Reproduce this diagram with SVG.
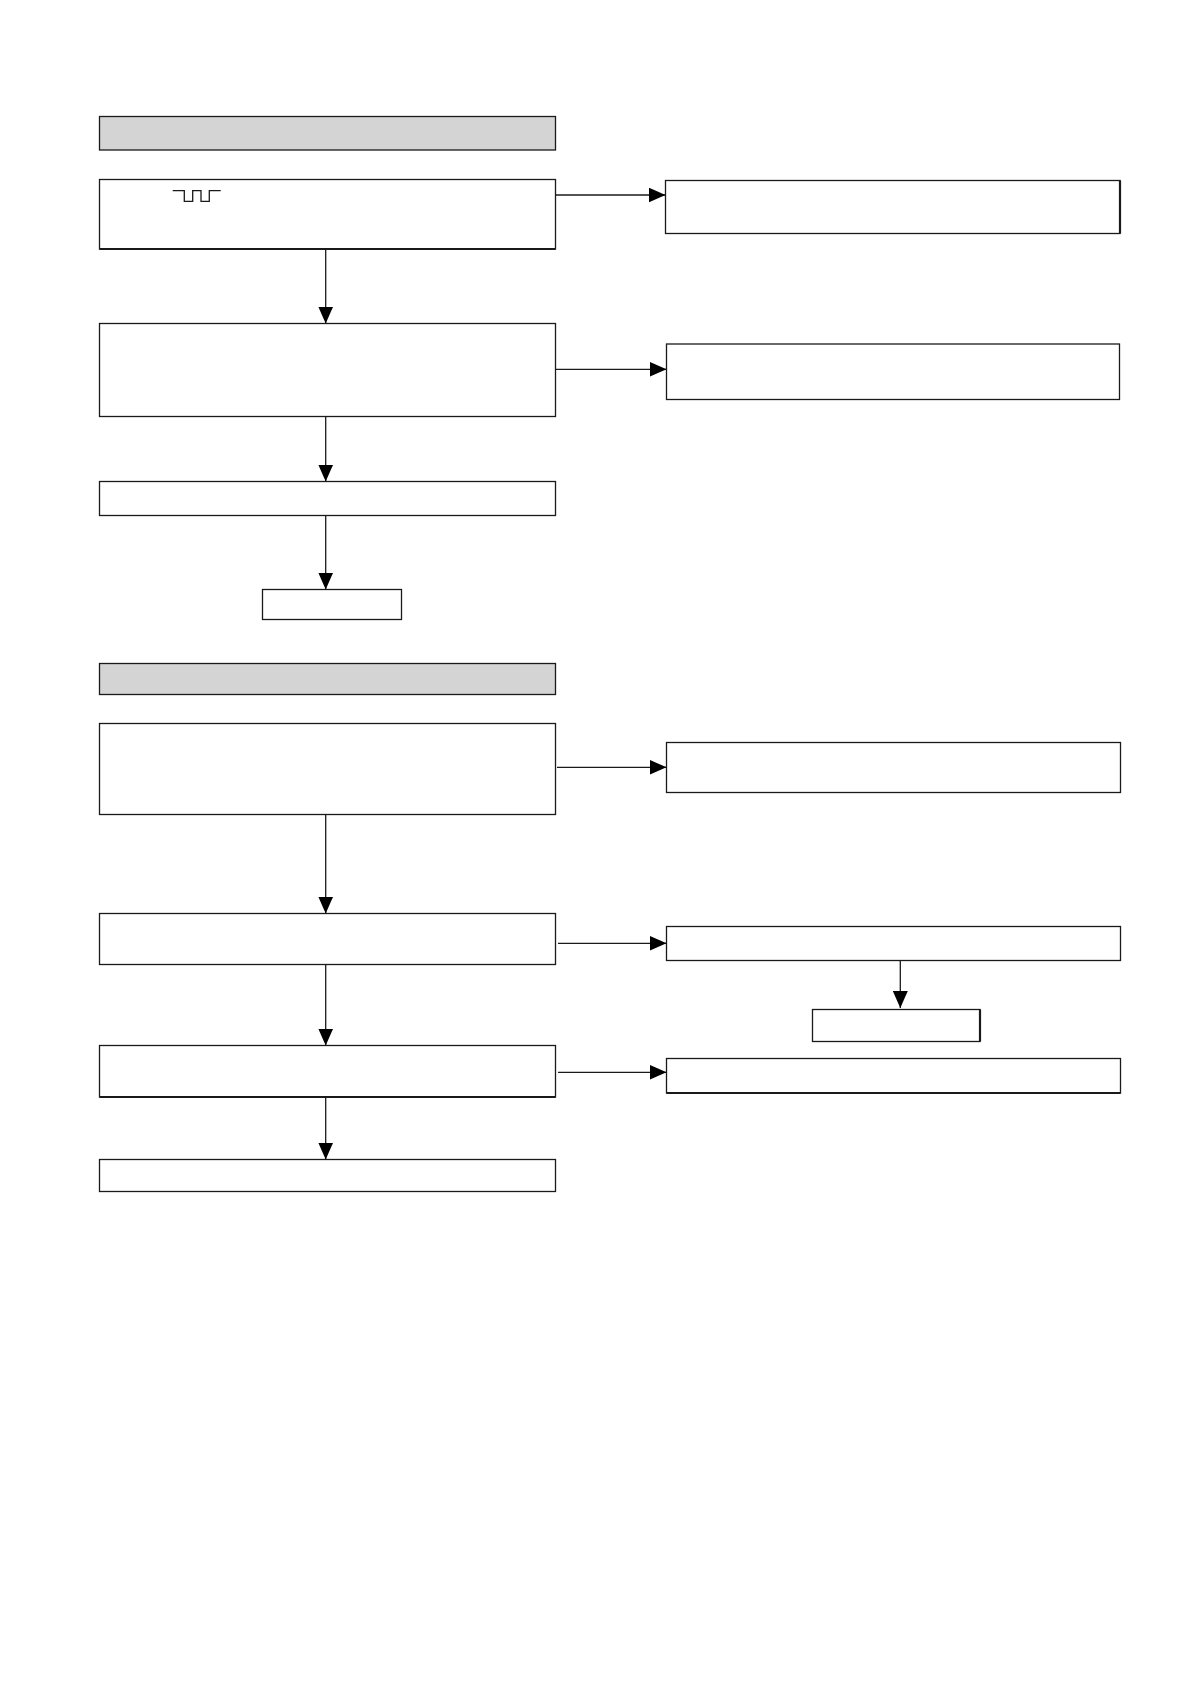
<svg xmlns="http://www.w3.org/2000/svg" width="1190" height="1684" viewBox="0 0 1190 1684">
<style>
.box{fill:#fff;stroke:#1a1a1a;stroke-width:1.3}
.hdr{fill:#d4d4d4;stroke:#1a1a1a;stroke-width:1.3}
.thick{stroke:#1a1a1a;stroke-width:2.2}
.con{fill:none;stroke:#1a1a1a;stroke-width:1.3}
</style>
<defs>
<marker id="ah" viewBox="0 0 17 15" refX="17" refY="7.5" markerWidth="17" markerHeight="15" markerUnits="userSpaceOnUse" orient="auto">
<path d="M0,0 L17,7.5 L0,15 Z" fill="#000"/>
</marker>
</defs>
<rect width="1190" height="1684" fill="#fff"/>
<g id="header1"><rect class="hdr" x="99.5" y="116.5" width="456" height="33.5"/></g>
<g id="box1">
<rect class="box" x="99.5" y="179.5" width="456" height="69.5"/>
<line class="thick" x1="99.5" y1="249" x2="555.5" y2="249"/>
<path class="con" d="M172.7,190.7 H184.3 V201.3 H192.7 V190.7 H201 V201.3 H209.3 V190.7 H220.7" stroke-width="1.6"/>
</g>
<g id="rbox1"><rect class="box" x="665.5" y="180.5" width="454.5" height="53"/><line class="thick" x1="1120" y1="180.5" x2="1120" y2="233.5"/></g>
<g id="box2"><rect class="box" x="99.5" y="323.5" width="456" height="93"/></g>
<g id="rbox2"><rect class="box" x="666.5" y="344" width="453" height="55.5"/></g>
<g id="box3"><rect class="box" x="99.5" y="481.5" width="456" height="34"/></g>
<g id="box4"><rect class="box" x="262.5" y="589.5" width="139" height="30"/></g>
<g id="header2"><rect class="hdr" x="99.5" y="663.5" width="456" height="31"/></g>
<g id="box5"><rect class="box" x="99.5" y="723.5" width="456" height="91"/></g>
<g id="rbox5"><rect class="box" x="666.5" y="742.5" width="454" height="50"/></g>
<g id="box6"><rect class="box" x="99.5" y="913.5" width="456" height="51"/></g>
<g id="rbox6"><rect class="box" x="666.5" y="926.5" width="454" height="34"/></g>
<g id="rbox6b"><rect class="box" x="812.5" y="1009.5" width="167.5" height="32"/><line class="thick" x1="980" y1="1009.5" x2="980" y2="1041.5"/></g>
<g id="box7"><rect class="box" x="99.5" y="1045.5" width="456" height="51.5"/><line class="thick" x1="99.5" y1="1097" x2="555.5" y2="1097"/></g>
<g id="rbox7"><rect class="box" x="666.5" y="1058.5" width="454" height="34.5"/><line class="thick" x1="666.5" y1="1093" x2="1120.5" y2="1093"/></g>
<g id="box8"><rect class="box" x="99.5" y="1159.5" width="456" height="32"/></g>
<g id="connectors">
<line class="con" x1="555.5" y1="195" x2="665.5" y2="195" marker-end="url(#ah)"/>
<line class="con" x1="325.7" y1="249" x2="325.7" y2="323.5" marker-end="url(#ah)"/>
<line class="con" x1="555.5" y1="369.3" x2="666.5" y2="369.3" marker-end="url(#ah)"/>
<line class="con" x1="325.7" y1="416.5" x2="325.7" y2="481.5" marker-end="url(#ah)"/>
<line class="con" x1="325.7" y1="515.5" x2="325.7" y2="589.5" marker-end="url(#ah)"/>
<line class="con" x1="557" y1="767.3" x2="666.5" y2="767.3" marker-end="url(#ah)"/>
<line class="con" x1="325.7" y1="814.5" x2="325.7" y2="913.5" marker-end="url(#ah)"/>
<line class="con" x1="558" y1="943.3" x2="666.5" y2="943.3" marker-end="url(#ah)"/>
<line class="con" x1="900.3" y1="960.5" x2="900.3" y2="1008" marker-end="url(#ah)"/>
<line class="con" x1="325.7" y1="964.5" x2="325.7" y2="1045.5" marker-end="url(#ah)"/>
<line class="con" x1="558" y1="1072.3" x2="666.5" y2="1072.3" marker-end="url(#ah)"/>
<line class="con" x1="325.7" y1="1097" x2="325.7" y2="1159.5" marker-end="url(#ah)"/>
</g>
</svg>
